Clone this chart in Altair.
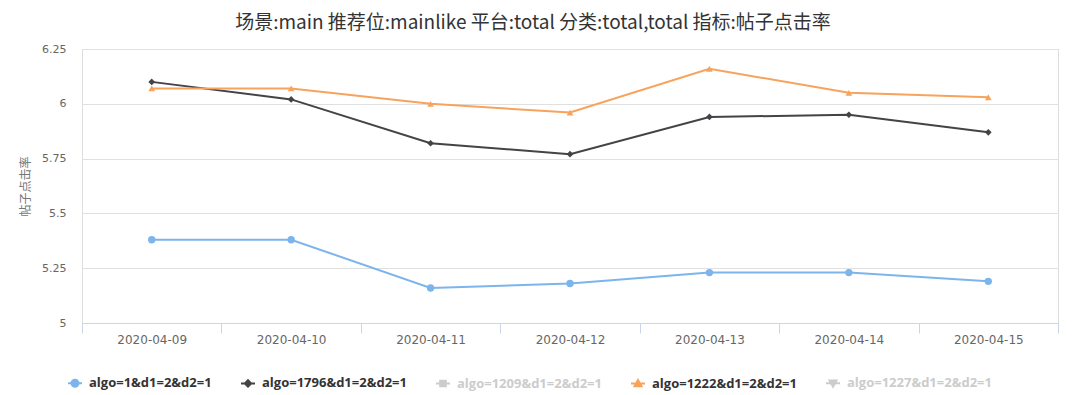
import altair as alt
import pandas as pd

dates = ["2020-04-09", "2020-04-10", "2020-04-11", "2020-04-12",
         "2020-04-13", "2020-04-14", "2020-04-15"]
series_names = ["algo=1&d1=2&d2=1", "algo=1796&d1=2&d2=1", "algo=1209&d1=2&d2=1",
                "algo=1222&d1=2&d2=1", "algo=1227&d1=2&d2=1"]
hidden_names = ["algo=1209&d1=2&d2=1", "algo=1227&d1=2&d2=1"]
series_colors = ["#7cb5ec", "#434348", "#cccccc", "#f7a35c", "#cccccc"]
series_markers = ["circle", "diamond", "square", "triangle-up", "triangle-down"]

values_algo1 = [5.38, 5.38, 5.16, 5.18, 5.23, 5.23, 5.19]
values_algo1796 = [6.10, 6.02, 5.82, 5.77, 5.94, 5.95, 5.87]
values_algo1222 = [6.07, 6.07, 6.00, 5.96, 6.16, 6.05, 6.03]

y_ticks = [5, 5.25, 5.5, 5.75, 6, 6.25]

visible = {
    "algo=1&d1=2&d2=1": values_algo1,
    "algo=1796&d1=2&d2=1": values_algo1796,
    "algo=1222&d1=2&d2=1": values_algo1222,
}
rows = []
for name, vals in visible.items():
    for d, v in zip(dates, vals):
        rows.append({"date": d, "series": name, "value": v})
df = pd.DataFrame(rows)

# legend symbols: short line with marker (coordinates in [-1,1] box)
legend_paths = {
    "circle": "M-1,0H1M0.5,0A0.5,0.5,0,1,1,-0.5,0A0.5,0.5,0,1,1,0.5,0Z",
    "diamond": "M-1,0H1M0,-0.45L0.45,0L0,0.45L-0.45,0Z",
    "square": "M-1,0H1M-0.4,-0.4H0.4V0.4H-0.4Z",
    "triangle-up": "M-1,0H1M0,-0.5L0.5,0.4H-0.5Z",
    "triangle-down": "M-1,0H1M-0.5,-0.4H0.5L0,0.5Z",
}
legend_shapes = [legend_paths[m] for m in series_markers]

FONT = "DejaVu Sans"
LEGEND_FONT = "Open Sans"

x_enc = alt.X(
    "date:O",
    bandPosition=0.5,
    scale=alt.Scale(type="band", domain=dates, paddingInner=0, paddingOuter=0),
    axis=alt.Axis(title=None, labelAngle=0, tickBand="extent", grid=False,
                  domainColor="#ccd6eb", tickColor="#ccd6eb", tickSize=10,
                  labelColor="#666666", labelFontSize=12, labelFont=FONT,
                  labelPadding=1),
)
y_enc = alt.Y(
    "value:Q",
    scale=alt.Scale(domain=[5, 6.25], nice=False, zero=False),
    axis=alt.Axis(title="帖子点击率", values=y_ticks, format=".2~f", domain=False, ticks=False,
                  gridColor="#e0e0e0", labelColor="#666666", labelFontSize=11,
                  labelFont=FONT, labelPadding=16, titleColor="#777777",
                  titleFont="Noto Sans CJK SC", titleFontSize=12,
                  titleFontWeight="normal", titlePadding=9),
)

# colour scale for drawn series only (visible ones)
vis_names = [n for n in series_names if n in visible]
vis_colors = [c for n, c in zip(series_names, series_colors) if n in visible]
color_scale = alt.Scale(domain=vis_names, range=vis_colors)

base = alt.Chart(df)

lines = base.mark_line(strokeWidth=2).encode(
    x=x_enc, y=y_enc,
    color=alt.Color("series:N", scale=color_scale, legend=None),
)

point_layers = []
for name, marker in zip(series_names, series_markers):
    if name not in visible:
        continue
    size = 55 if marker == "circle" else 45
    point_layers.append(
        base.transform_filter(alt.datum.series == name).mark_point(
            filled=True, shape=marker, size=size, opacity=1
        ).encode(
            x=x_enc, y=y_enc,
            color=alt.Color("series:N", scale=color_scale, legend=None),
        )
    )

label_color_expr = (
    "indexof([" + ",".join("'" + h + "'" for h in hidden_names) + "], datum.label) >= 0"
    " ? '#cccccc' : '#333333'"
)

legend_props = dict(
    title=None, orient="none", direction="horizontal",
    legendX=-15, legendY=326, padding=0,
    labelFont=LEGEND_FONT, labelFontSize=13, labelFontWeight="bold",
    labelColor=alt.ExprRef(label_color_expr),
    symbolSize=196, symbolStrokeWidth=2, symbolOpacity=1,
    columnPadding=25, labelOffset=6, labelLimit=400,
)

legend_layer = base.transform_filter("false").mark_point(
    filled=True, size=196, strokeWidth=2, opacity=1
).encode(
    x=x_enc, y=y_enc,
    fill=alt.Fill(
        "series:N",
        scale=alt.Scale(domain=series_names, range=series_colors),
        legend=alt.Legend(**legend_props),
    ),
    stroke=alt.Stroke(
        "series:N",
        scale=alt.Scale(domain=series_names, range=series_colors),
        legend=alt.Legend(**legend_props),
    ),
    shape=alt.Shape(
        "series:N",
        scale=alt.Scale(domain=series_names, range=legend_shapes),
        legend=alt.Legend(**legend_props),
    ),
)

chart = alt.layer(lines, *point_layers, legend_layer).properties(
    width=976,
    height=274,
    padding={"left": 74, "top": 41, "right": 3, "bottom": 68},
    autosize=alt.AutoSizeParams(type="none"),
    title=alt.TitleParams(
        "场景:main 推荐位:mainlike 平台:total 分类:total,total 指标:帖子点击率",
        font="Noto Sans CJK SC", fontSize=19, fontWeight="normal",
        color="#333333", anchor="middle", dx=-37, offset=10,
    ),
).configure_view(stroke=None).configure(background="white")

chart.save("out.html", embed_options={"renderer": "svg", "actions": False})
